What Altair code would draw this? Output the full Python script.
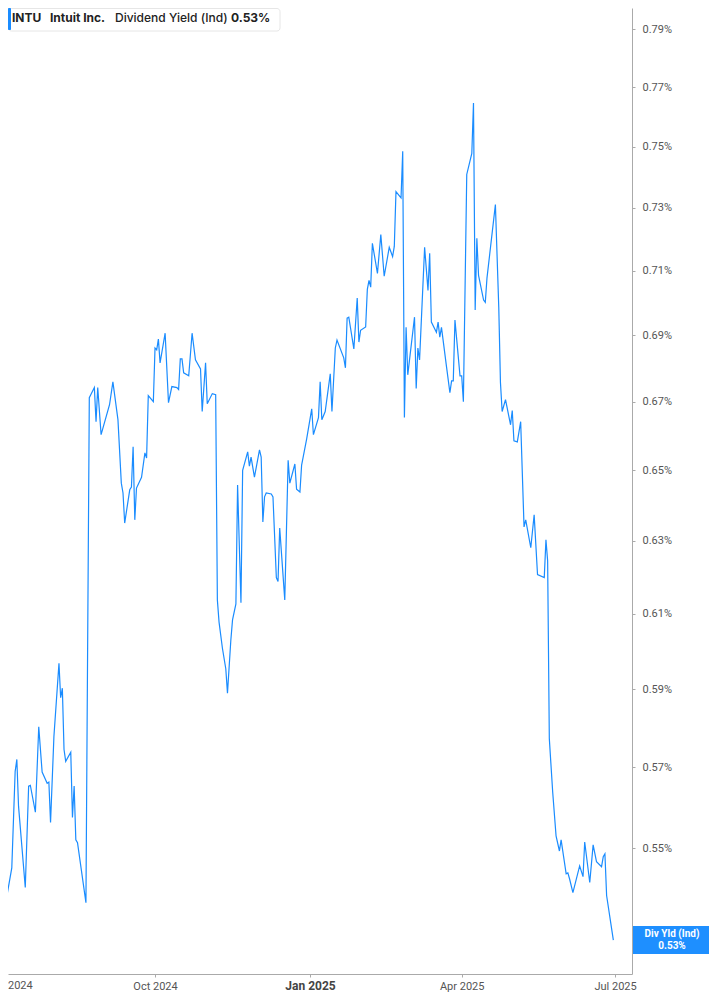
import altair as alt
import pandas as pd

dates = [
    "2024-07-01", "2024-07-05", "2024-07-08", "2024-07-10", "2024-07-11", "2024-07-12",
    "2024-07-16", "2024-07-18", "2024-07-19", "2024-07-22", "2024-07-24", "2024-07-26",
    "2024-07-29", "2024-07-30", "2024-07-31", "2024-08-02", "2024-08-05", "2024-08-06",
    "2024-08-07", "2024-08-08", "2024-08-09", "2024-08-12", "2024-08-13", "2024-08-14",
    "2024-08-15", "2024-08-16", "2024-08-21", "2024-08-23", "2024-08-26", "2024-08-27",
    "2024-08-28", "2024-08-30", "2024-09-04", "2024-09-06", "2024-09-09", "2024-09-11",
    "2024-09-12", "2024-09-13", "2024-09-16", "2024-09-17", "2024-09-18", "2024-09-19",
    "2024-09-20", "2024-09-23", "2024-09-25", "2024-09-26", "2024-09-27", "2024-09-30",
    "2024-10-01", "2024-10-02", "2024-10-03", "2024-10-04", "2024-10-07", "2024-10-09",
    "2024-10-11", "2024-10-14", "2024-10-15", "2024-10-16", "2024-10-17", "2024-10-18",
    "2024-10-21", "2024-10-23", "2024-10-25", "2024-10-28", "2024-10-29", "2024-10-31",
    "2024-11-01", "2024-11-04", "2024-11-06", "2024-11-07", "2024-11-08", "2024-11-10",
    "2024-11-12", "2024-11-13", "2024-11-15", "2024-11-16", "2024-11-18", "2024-11-19",
    "2024-11-21", "2024-11-22", "2024-11-25", "2024-11-26", "2024-11-27", "2024-11-29",
    "2024-12-02", "2024-12-03", "2024-12-04", "2024-12-05", "2024-12-06", "2024-12-09",
    "2024-12-10", "2024-12-12", "2024-12-13", "2024-12-14", "2024-12-17", "2024-12-19",
    "2024-12-20", "2024-12-23", "2024-12-24", "2024-12-26", "2024-12-27", "2024-12-30",
    "2025-01-02", "2025-01-03", "2025-01-06", "2025-01-07", "2025-01-08", "2025-01-10",
    "2025-01-13", "2025-01-14", "2025-01-16", "2025-01-17", "2025-01-21", "2025-01-22",
    "2025-01-23", "2025-01-24", "2025-01-27", "2025-01-29", "2025-01-30", "2025-01-31",
    "2025-02-03", "2025-02-04", "2025-02-05", "2025-02-06", "2025-02-07", "2025-02-10",
    "2025-02-12", "2025-02-14", "2025-02-17", "2025-02-19", "2025-02-20", "2025-02-21",
    "2025-02-24", "2025-02-25", "2025-02-26", "2025-02-27", "2025-02-28", "2025-03-04",
    "2025-03-05", "2025-03-06", "2025-03-07", "2025-03-10", "2025-03-12", "2025-03-13",
    "2025-03-14", "2025-03-17", "2025-03-18", "2025-03-19", "2025-03-20", "2025-03-23",
    "2025-03-25", "2025-03-26", "2025-03-27", "2025-03-28", "2025-03-31", "2025-04-01",
    "2025-04-02", "2025-04-04", "2025-04-07", "2025-04-08", "2025-04-09", "2025-04-10",
    "2025-04-11", "2025-04-14", "2025-04-15", "2025-04-16", "2025-04-21", "2025-04-23",
    "2025-04-24", "2025-04-25", "2025-04-27", "2025-04-30", "2025-05-01", "2025-05-02",
    "2025-05-04", "2025-05-06", "2025-05-08", "2025-05-09", "2025-05-12", "2025-05-14",
    "2025-05-16", "2025-05-20", "2025-05-21", "2025-05-22", "2025-05-23", "2025-05-25",
    "2025-05-27", "2025-05-29", "2025-05-30", "2025-06-02", "2025-06-03", "2025-06-04",
    "2025-06-06", "2025-06-10", "2025-06-12", "2025-06-13", "2025-06-16", "2025-06-18",
    "2025-06-20", "2025-06-23", "2025-06-24", "2025-06-25", "2025-06-26", "2025-06-30",
]

yield_pct = [
    0.5533, 0.5383, 0.5452, 0.5690, 0.5720, 0.5603,
    0.5405, 0.5653, 0.5655, 0.5588, 0.5803, 0.5688,
    0.5660, 0.5663, 0.5563, 0.5778, 0.5968, 0.5878,
    0.5903, 0.5745, 0.5715, 0.5738, 0.5575, 0.5653,
    0.5520, 0.5513, 0.5369, 0.6712, 0.6742, 0.6641,
    0.6742, 0.6603, 0.6691, 0.6759, 0.6647, 0.6463,
    0.6435, 0.6350, 0.6444, 0.6452, 0.6568, 0.6359,
    0.6449, 0.6480, 0.6550, 0.6535, 0.6718, 0.6700,
    0.6861, 0.6855, 0.6888, 0.6816, 0.6906, 0.6697,
    0.6745, 0.6742, 0.6736, 0.6828, 0.6828, 0.6786,
    0.6777, 0.6906, 0.6825, 0.6798, 0.6671, 0.6816,
    0.6694, 0.6724, 0.6721, 0.6138, 0.6078, 0.6008,
    0.5954, 0.5890, 0.6030, 0.6084, 0.6127, 0.6458,
    0.6130, 0.6500, 0.6553, 0.6512, 0.6538, 0.6480,
    0.6559, 0.6538, 0.6353, 0.6424, 0.6435, 0.6432,
    0.6424, 0.6199, 0.6188, 0.6336, 0.6138, 0.6529,
    0.6463, 0.6518, 0.6446, 0.6438, 0.6515, 0.6591,
    0.6679, 0.6603, 0.6653, 0.6759, 0.6647, 0.6671,
    0.6783, 0.6671, 0.6861, 0.6885, 0.6831, 0.6801,
    0.6952, 0.6955, 0.6858, 0.7014, 0.6879, 0.6915,
    0.6925, 0.7041, 0.7069, 0.7048, 0.7186, 0.7091,
    0.7214, 0.7082, 0.7173, 0.7144, 0.7176, 0.7352,
    0.7332, 0.7484, 0.6653, 0.6924, 0.6780, 0.6955,
    0.6739, 0.6861, 0.6825, 0.7173, 0.7038, 0.7154,
    0.6940, 0.6909, 0.6940, 0.6894, 0.6924, 0.6804,
    0.6727, 0.6762, 0.6762, 0.6946, 0.6777, 0.6777,
    0.6700, 0.7408, 0.7477, 0.7646, 0.6977, 0.7202,
    0.7085, 0.7008, 0.7001, 0.7076, 0.7310, 0.6986,
    0.6757, 0.6671, 0.6706, 0.6632, 0.6674, 0.6585,
    0.6582, 0.6641, 0.6339, 0.6359, 0.6281, 0.6373,
    0.6207, 0.6199, 0.6303, 0.6245, 0.5773, 0.5638,
    0.5530, 0.5493, 0.5520, 0.5438, 0.5440, 0.5426,
    0.5393, 0.5457, 0.5431, 0.5515, 0.5417, 0.5508,
    0.5467, 0.5455, 0.5479, 0.5486, 0.5386, 0.5281,
]

y_ticks = [0.55, 0.57, 0.59, 0.61, 0.63, 0.65, 0.67, 0.69, 0.71, 0.73, 0.75, 0.77, 0.79]
ticker = "INTU"
company = "Intuit Inc."
metric = "Dividend Yield (Ind)"
last_label = "0.53%"
badge_title = "Div Yld (Ind)"

LINE = "#1a8cff"
W, H = 624, 966
TOTAL_W, TOTAL_H = 701, 986

df = pd.DataFrame({"date": pd.to_datetime(dates), "value": yield_pct})

x_axis = alt.Axis(
    values=[alt.DateTime(year=2024, month=10, date=1), alt.DateTime(year=2025, month=1, date=1),
            alt.DateTime(year=2025, month=4, date=1), alt.DateTime(year=2025, month=7, date=1)],
    format="%b %Y", title=None, grid=False,
    domainColor="#aaaaaa", tickColor="#aaaaaa", tickSize=3, labelPadding=3,
    labelFont="Roboto",
    labelFontSize=alt.expr("month(datum.value) == 0 ? 12 : 11"),
    labelFontWeight=alt.expr("month(datum.value) == 0 ? 'bold' : 'normal'"),
    labelColor=alt.expr("month(datum.value) == 0 ? '#444444' : '#555555'"),
)
y_axis = alt.Axis(
    orient="right", values=y_ticks, title=None, grid=False,
    labelExpr="format(datum.value, '.2f') + '%'",
    domainColor="#aaaaaa", tickColor="#aaaaaa", tickSize=3, labelPadding=7,
    labelFont="Roboto", labelFontSize=11, labelColor="#555555",
)

line = alt.Chart(df).mark_line(color=LINE, strokeWidth=1.2, clip=True).encode(
    x=alt.X("date:T", axis=x_axis,
            scale=alt.Scale(domain=[alt.DateTime(year=2024, month=7, date=5, hours=18),
                                    alt.DateTime(year=2025, month=7, date=11, hours=1, minutes=40)])),
    y=alt.Y("value:Q", axis=y_axis,
            scale=alt.Scale(type="log", domain=[0.52023, 0.79737], nice=False, zero=False)),
)

one = pd.DataFrame({"k": [0]})

legend_box = alt.Chart(one).mark_rect(fill="white", stroke="#e6e6e6", strokeWidth=1, cornerRadius=3).encode(
    x=alt.value(0.5), x2=alt.value(272), y=alt.value(0.5), y2=alt.value(23))
legend_bar = alt.Chart(one).mark_rect(fill=LINE, cornerRadius=1).encode(
    x=alt.value(0), x2=alt.value(3), y=alt.value(0), y2=alt.value(22))

bold_df = pd.DataFrame({"t": [ticker, company, last_label], "px": [4, 42, 223]})
legend_bold = alt.Chart(bold_df).mark_text(
    align="left", baseline="middle", font="Inter", fontSize=12, color="#222222", fontWeight="bold"
).encode(x=alt.X("px:Q", scale=None), y=alt.value(10), text="t:N")
legend_metric = alt.Chart(pd.DataFrame({"t": [metric], "px": [107]})).mark_text(
    align="left", baseline="middle", font="Inter", fontSize=12, color="#222222", fontWeight=500
).encode(x=alt.X("px:Q", scale=None), y=alt.value(10), text="t:N")

year_stub = alt.Chart(one).mark_text(
    align="left", baseline="middle", font="Roboto", fontSize=11, color="#555555"
).encode(x=alt.value(0), y=alt.value(H + 12), text=alt.value("2024"))

badge = alt.Chart(one).mark_rect(fill="#1e8fff").encode(
    x=alt.value(W + 1), x2=alt.value(TOTAL_W), y=alt.value(918), y2=alt.value(946))
badge_text = alt.Chart(pd.DataFrame({"t": [badge_title, last_label], "py": [926, 937.5]})).mark_text(
    align="center", baseline="middle", font="Roboto", fontSize=10, fontWeight="bold", color="white"
).encode(x=alt.value(664), y=alt.Y("py:Q", scale=None), text="t:N")

chart = alt.layer(
    line, legend_box, legend_bar, legend_bold, legend_metric, year_stub, badge, badge_text
).properties(
    width=W, height=H, background="white",
    autosize=alt.AutoSizeParams(type="none"),
    padding={"left": 0, "top": 0, "right": TOTAL_W - W, "bottom": TOTAL_H - H},
).configure_view(stroke=None)

chart.save("out.html", embed_options={"renderer": "svg", "actions": False})
